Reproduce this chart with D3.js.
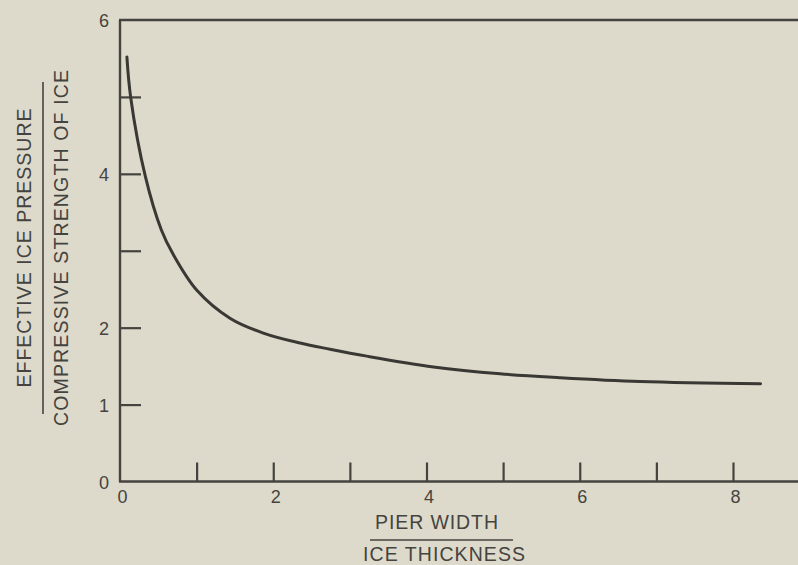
<!DOCTYPE html>
<html>
<head>
<meta charset="utf-8">
<script src="https://cdn.jsdelivr.net/npm/d3@7"></script>
<style>
  html, body { margin: 0; padding: 0; background: #dddacb; }
  svg { display: block; }
  text { font-family: "Liberation Sans", Arial, Helvetica, sans-serif; fill: #45433f; }
</style>
</head>
<body>
<svg id="chart" width="798" height="565"></svg>
<script>
// Ratio of pier width to ice thickness
const ratioX = [0.09, 0.14, 0.33, 0.54, 0.69, 1.0, 1.44, 1.87, 2.35, 2.74, 3.22, 4.09, 4.96, 5.74, 6.79, 8.36];
// Effective ice pressure / compressive strength of ice
const pressureY = [5.52, 4.99, 3.97, 3.27, 2.96, 2.49, 2.12, 1.93, 1.80, 1.72, 1.63, 1.49, 1.40, 1.35, 1.30, 1.27];

const xTickMarks = [1, 2, 3, 4, 5, 6, 7, 8];
const xTickLabels = [0, 2, 4, 6, 8];
const yTickMarks = [1, 2, 3, 4, 5];
const yTickLabels = [0, 1, 2, 4, 6];

const yTitleTop = "EFFECTIVE ICE PRESSURE";
const yTitleBottom = "COMPRESSIVE STRENGTH OF ICE";
const xTitleTop = "PIER WIDTH";
const xTitleBottom = "ICE THICKNESS";

const ink = "#45433f";
const tickFont = 18;
const titleFont = 19.5;
const svg = d3.select("#chart");

const plotLeft = 120, plotBottom = 481.5, plotTop = 20, plotRight = 798;
const x = d3.scaleLinear().domain([0, 8]).range([plotLeft, 733]);
const y = d3.scaleLinear().domain([0, 6]).range([plotBottom, plotTop]);

// Frame: left axis, bottom axis, top border
const frame = svg.append("g").attr("stroke", ink).attr("stroke-width", 2.4).attr("fill", "none");
frame.append("line").attr("x1", plotLeft).attr("x2", plotLeft).attr("y1", plotTop).attr("y2", plotBottom);
frame.append("line").attr("x1", plotLeft - 1).attr("x2", plotRight).attr("y1", plotBottom).attr("y2", plotBottom);
frame.append("line").attr("x1", plotLeft - 1).attr("x2", plotRight).attr("y1", plotTop).attr("y2", plotTop);

// Inward tick marks
const xMarks = svg.append("g").attr("transform", `translate(0,${plotBottom})`)
  .call(d3.axisBottom(x).tickValues(xTickMarks).tickSize(-19).tickFormat(""));
const yMarks = svg.append("g").attr("transform", `translate(${plotLeft},0)`)
  .call(d3.axisLeft(y).tickValues(yTickMarks).tickSize(-21).tickFormat(""));
[xMarks, yMarks].forEach(g => {
  g.select(".domain").remove();
  g.selectAll(".tick line").attr("stroke", ink).attr("stroke-width", 2.2);
});

// Tick labels
const xLabels = svg.append("g").attr("transform", `translate(0,${plotBottom})`)
  .call(d3.axisBottom(x).tickValues(xTickLabels).tickSize(0).tickPadding(9).tickFormat(d3.format("d")));
const yLabels = svg.append("g").attr("transform", `translate(${plotLeft},0)`)
  .call(d3.axisLeft(y).tickValues(yTickLabels).tickSize(0).tickPadding(11).tickFormat(d3.format("d")));
[xLabels, yLabels].forEach(g => {
  g.attr("font-size", tickFont).attr("font-family", null);
  g.select(".domain").remove();
  g.selectAll(".tick text").attr("font-size", tickFont).attr("fill", ink);
});
xLabels.selectAll(".tick text").attr("dx", 2);
yLabels.selectAll(".tick text").attr("dy", "0.38em");

// Curve
const line = d3.line()
  .x((d, i) => x(ratioX[i]))
  .y(d => y(d))
  .curve(d3.curveCatmullRom.alpha(0.5));
svg.append("path")
  .datum(pressureY)
  .attr("d", line)
  .attr("fill", "none")
  .attr("stroke", "#3a3834")
  .attr("stroke-width", 3)
  .attr("stroke-linecap", "round");

// Y-axis title as a fraction
const yt = svg.append("g").attr("transform", "translate(0,248) rotate(-90)");
yt.append("text").attr("x", 0).attr("y", 31).attr("text-anchor", "middle")
  .attr("font-size", titleFont).attr("textLength", 279).attr("lengthAdjust", "spacing")
  .text(yTitleTop);
yt.append("line").attr("x1", -166).attr("x2", 166).attr("y1", 43).attr("y2", 43)
  .attr("stroke", ink).attr("stroke-width", 1.6);
yt.append("text").attr("x", 0).attr("y", 68).attr("text-anchor", "middle")
  .attr("font-size", titleFont).attr("textLength", 356).attr("lengthAdjust", "spacing")
  .text(yTitleBottom);

// X-axis title as a fraction
svg.append("text").attr("x", 436.5).attr("y", 528.5).attr("text-anchor", "middle")
  .attr("font-size", titleFont).attr("textLength", 123).attr("lengthAdjust", "spacing")
  .text(xTitleTop);
svg.append("line").attr("x1", 370).attr("x2", 513).attr("y1", 540).attr("y2", 540)
  .attr("stroke", ink).attr("stroke-width", 1.6);
svg.append("text").attr("x", 444).attr("y", 560.5).attr("text-anchor", "middle")
  .attr("font-size", titleFont).attr("textLength", 162).attr("lengthAdjust", "spacing")
  .text(xTitleBottom);
</script>
</body>
</html>
